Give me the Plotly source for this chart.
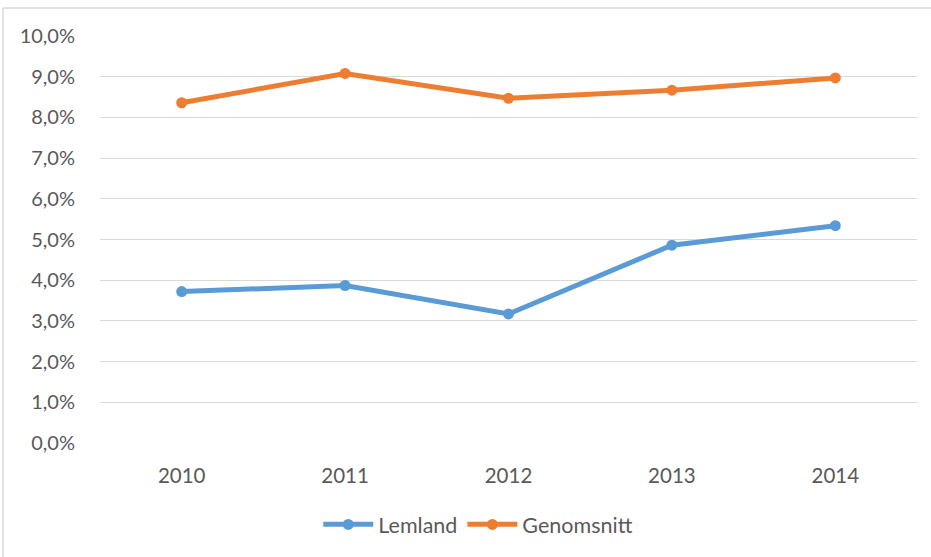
import plotly.graph_objects as go

years = ["2010", "2011", "2012", "2013", "2014"]
lemland = [0.0372, 0.0387, 0.0317, 0.0486, 0.0534]
genomsnitt = [0.0836, 0.0908, 0.0847, 0.0867, 0.0897]
y_ticks = [0, 0.01, 0.02, 0.03, 0.04, 0.05, 0.06, 0.07, 0.08, 0.09, 0.10]

font_fam = "Lato, Calibri, Carlito, sans-serif"
txt = "#595959"

fig = go.Figure()
fig.add_trace(go.Scatter(x=years, y=lemland, name="Lemland", mode="lines+markers",
                         line=dict(color="#5b9bd5", width=5),
                         marker=dict(size=11, color="#5b9bd5")))
fig.add_trace(go.Scatter(x=years, y=genomsnitt, name="Genomsnitt", mode="lines+markers",
                         line=dict(color="#ed7d31", width=5),
                         marker=dict(size=11, color="#ed7d31")))

fig.update_layout(
    width=931, height=557,
    margin=dict(l=100, r=14, t=36, b=114),
    paper_bgcolor="white", plot_bgcolor="white",
    separators=", ",
    font=dict(family=font_fam, size=20, color=txt),
    showlegend=True,
    legend=dict(orientation="h", x=0.463, xanchor="center", y=-0.2, yanchor="middle",
                font=dict(size=21.5, color=txt), itemwidth=50),
    xaxis=dict(type="category", range=[-0.5, 4.5], showgrid=False, showline=False,
               zeroline=False, ticks="outside", ticklen=14, tickcolor="rgba(0,0,0,0)",
               tickfont=dict(size=20.5, color=txt)),
    yaxis=dict(range=[0, 0.10], tickvals=y_ticks, tickformat=".1%",
               showgrid=True, gridcolor="#d9d9d9", gridwidth=1.3,
               zeroline=False, showline=False,
               ticks="outside", ticklen=20, tickcolor="rgba(0,0,0,0)",
               tickfont=dict(size=20, color=txt)),
    shapes=[
        dict(type="line", xref="paper", yref="paper", x0=-0.1187, x1=1.02, y0=1.0688, y1=1.0688,
             line=dict(color="#d9d9d9", width=1.5)),
        dict(type="line", xref="paper", yref="paper", x0=-0.1187, x1=-0.1187, y0=-0.3, y1=1.0688,
             line=dict(color="#d9d9d9", width=1.5)),
    ],
)

fig.write_html("out.html", config={"displayModeBar": False},
               post_script="document.body.style.margin='0';")
